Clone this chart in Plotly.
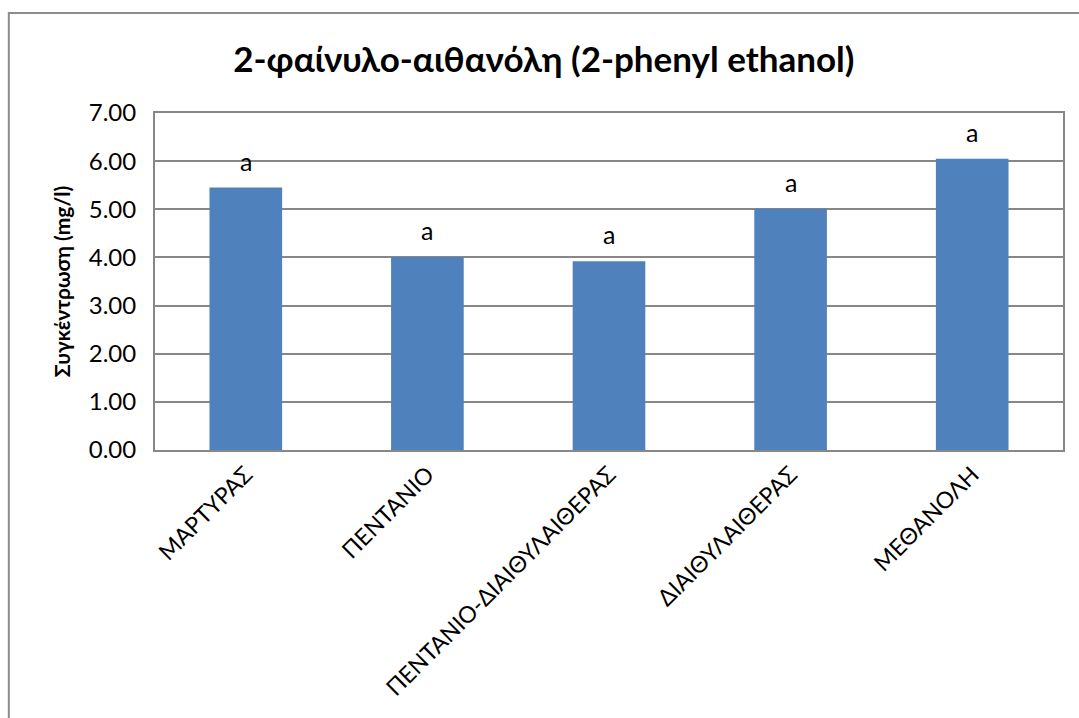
import plotly.graph_objects as go

# Treatments and measured concentration of 2-phenyl ethanol
categories = ["ΜΑΡΤΥΡΑΣ", "ΠΕΝΤΑΝΙΟ", "ΠΕΝΤΑΝΙΟ-ΔΙΑΙΘΥΛΑΙΘΕΡΑΣ", "ΔΙΑΙΘΥΛΑΙΘΕΡΑΣ", "ΜΕΘΑΝΟΛΗ"]
values = [5.45, 4.01, 3.92, 5.01, 6.05]
letters = ["a", "a", "a", "a", "a"]
y_ticks = [0, 1, 2, 3, 4, 5, 6, 7]

FONT = "Lato, Open Sans, sans-serif"
GRID = "#878787"

fig = go.Figure()
fig.add_trace(go.Bar(
    x=categories,
    y=values,
    width=0.4,
    marker=dict(color="#4F81BD", line=dict(color="#4F81BD", width=0)),
    showlegend=False,
))

# significance letters above each bar
for c, v, t in zip(categories, values, letters):
    fig.add_annotation(x=c, y=v, text=t, showarrow=False,
                       yanchor="bottom", yshift=10,
                       font=dict(family=FONT, size=25, color="#000000"))

fig.update_layout(
    width=1079, height=718,
    margin=dict(l=155, r=16, t=113, b=268),
    paper_bgcolor="white", plot_bgcolor="white",
    title=dict(text="<b>2-φαίνυλο-αιθανόλη (2-phenyl ethanol)</b>",
               x=0.504, xanchor="center", y=0.917, yanchor="middle",
               font=dict(family=FONT, size=35, color="#000000")),
    bargap=0.6,
    shapes=[dict(type="rect", xref="paper", yref="paper",
                 x0=-0.161, x1=1.2, y0=-1.2, y1=1.297,
                 line=dict(color="#8C8C8C", width=2), layer="below")],
)

fig.update_xaxes(
    showline=True, linecolor=GRID, linewidth=2, mirror=True,
    tickangle=-45, ticks="",
    tickfont=dict(family=FONT, size=23, color="#000000"),
)
fig.update_yaxes(
    range=[0, 7], tickvals=y_ticks,
    ticktext=[f"{v:.2f}" for v in y_ticks],
    showgrid=True, gridcolor=GRID, gridwidth=2,
    showline=True, linecolor=GRID, linewidth=2, mirror=True,
    zeroline=False, ticks="", ticklabelstandoff=12,
    tickfont=dict(family=FONT, size=24, color="#000000"),
    title=dict(text="<b>Συγκέντρωση (mg/l)</b>", standoff=12,
               font=dict(family=FONT, size=21, color="#000000")),
)

fig.write_html("out.html")
